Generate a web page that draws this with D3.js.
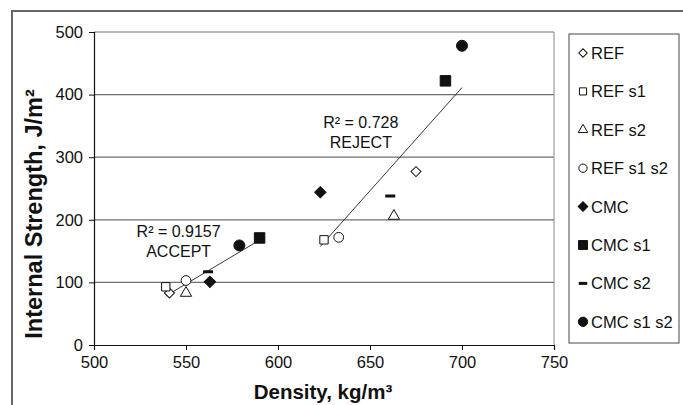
<!DOCTYPE html>
<html>
<head>
<meta charset="utf-8">
<script src="https://cdn.jsdelivr.net/npm/d3@7"></script>
<style>
  body { margin: 0; background: #fff; }
  svg text { font-family: "Liberation Sans", Arial, sans-serif; fill: #111; }
</style>
</head>
<body>
<div id="chart"></div>
<script>
const seriesNames = ['REF', 'REF s1', 'REF s2', 'REF s1 s2', 'CMC', 'CMC s1', 'CMC s2', 'CMC s1 s2'];
// low density group (ACCEPT) and high density group (REJECT), one point per series
const densityLow = [541, 539, 550, 550, 563, 590, 562, 579];
const strengthLow = [83, 93, 83, 103, 101, 171, 117, 159];
const densityHigh = [675, 625, 663, 633, 623, 691, 661, 700];
const strengthHigh = [277, 168, 206, 172, 244, 422, 238, 478];
const xTicks = [500, 550, 600, 650, 700, 750];
const yTicks = [0, 100, 200, 300, 400, 500];
const fitLabels = [
  {r2: '0.9157', verdict: 'ACCEPT', x: 546, y: 173},
  {r2: '0.728', verdict: 'REJECT', x: 645, y: 347}
];

const width = 683;
const height = 405;
const plotLeft = 94, plotRight = 554, plotTop = 32, plotBottom = 345;

let svg = d3.select('#chart')
  .append('svg')
  .attr('width', width)
  .attr('height', height);

// Outer chart border.
svg.append('rect')
  .attr('x', 12).attr('y', 11)
  .attr('width', 700).attr('height', 420)
  .attr('fill', 'none')
  .attr('stroke', '#666')
  .attr('stroke-width', 2);

let x = d3.scaleLinear().domain([500, 750]).range([plotLeft, plotRight]);
let y = d3.scaleLinear().domain([0, 500]).range([plotBottom, plotTop]);

// Gridlines.
svg.append('g')
  .selectAll('line')
  .data(yTicks.slice(1))
  .enter()
  .append('line')
    .attr('x1', plotLeft).attr('x2', plotRight)
    .attr('y1', d => y(d)).attr('y2', d => y(d))
    .attr('stroke', '#6e6e6e')
    .attr('stroke-width', 1.2);

// Right frame.
svg.append('line')
  .attr('x1', plotRight).attr('x2', plotRight)
  .attr('y1', plotTop).attr('y2', plotBottom)
  .attr('stroke', '#888');

let xAxis = d3.axisBottom(x).tickValues(xTicks).tickSize(5).tickPadding(6);
let yAxis = d3.axisLeft(y).tickValues(yTicks).tickSize(5).tickPadding(6);

let gx = svg.append('g')
  .attr('transform', `translate(0,${plotBottom})`)
  .call(xAxis);
let gy = svg.append('g')
  .attr('transform', `translate(${plotLeft},0)`)
  .call(yAxis);

[gx, gy].forEach(g => {
  g.select('.domain').attr('stroke', '#111').attr('stroke-width', 1.2);
  g.selectAll('.tick line').attr('stroke', '#111');
  g.selectAll('.tick text')
    .style('font-family', '"Liberation Sans", Arial, sans-serif')
    .style('font-size', '16.5px')
    .attr('fill', '#111');
});

// Axis titles.
svg.append('text')
  .attr('x', 323).attr('y', 399)
  .attr('text-anchor', 'middle')
  .style('font-size', '20.5px')
  .style('font-weight', 'bold')
  .text('Density, kg/m³');

svg.append('text')
  .attr('transform', 'translate(42,214) rotate(-90)')
  .attr('text-anchor', 'middle')
  .style('font-size', '23.5px')
  .style('font-weight', 'bold')
  .text('Internal Strength, J/m²');

// Marker styles, one per series.
const markers = [
  {type: d3.symbolSquare, size: 50, rotate: 45, fill: '#fff'},
  {type: d3.symbolSquare, size: 70, rotate: 0, fill: '#fff'},
  {type: d3.symbolTriangle, size: 55, rotate: 0, fill: '#fff'},
  {type: d3.symbolCircle, size: 75, rotate: 0, fill: '#fff'},
  {type: d3.symbolSquare, size: 64, rotate: 45, fill: '#111'},
  {type: d3.symbolSquare, size: 110, rotate: 0, fill: '#111'},
  {type: 'dash'},
  {type: d3.symbolCircle, size: 95, rotate: 0, fill: '#111'}
];

function drawMarker(g, i, cx, cy, scale) {
  let m = markers[i];
  if (m.type === 'dash') {
    g.append('rect')
      .attr('x', cx - 5 * scale).attr('y', cy - 1.5)
      .attr('width', 10 * scale).attr('height', 3)
      .attr('fill', '#111');
    return;
  }
  g.append('path')
    .attr('d', d3.symbol().type(m.type).size(m.size * scale * scale)())
    .attr('transform', `translate(${cx},${cy}) rotate(${m.rotate})`)
    .attr('fill', m.fill)
    .attr('stroke', '#111')
    .attr('stroke-width', 1);
}

// Trend lines (least squares on each group).
function fit(xs, ys) {
  let mx = d3.mean(xs), my = d3.mean(ys);
  let sxy = d3.sum(xs, (v, i) => (v - mx) * (ys[i] - my));
  let sxx = d3.sum(xs, v => (v - mx) * (v - mx));
  let slope = sxy / sxx;
  let x0 = d3.min(xs), x1 = d3.max(xs);
  return [[x0, my + slope * (x0 - mx)], [x1, my + slope * (x1 - mx)]];
}

[[densityLow, strengthLow], [densityHigh, strengthHigh]].forEach(([xs, ys]) => {
  let seg = fit(xs, ys);
  svg.append('line')
    .attr('x1', x(seg[0][0])).attr('y1', y(seg[0][1]))
    .attr('x2', x(seg[1][0])).attr('y2', y(seg[1][1]))
    .attr('stroke', '#222')
    .attr('stroke-width', 0.9);
});

// Points.
let points = svg.append('g');
seriesNames.forEach((name, i) => {
  drawMarker(points, i, x(densityLow[i]), y(strengthLow[i]), 1);
  drawMarker(points, i, x(densityHigh[i]), y(strengthHigh[i]), 1);
});

// R² labels.
fitLabels.forEach(d => {
  svg.append('text')
    .attr('x', x(d.x)).attr('y', y(d.y))
    .attr('text-anchor', 'middle')
    .style('font-size', '16px')
    .text(`R² = ${d.r2}`);
  svg.append('text')
    .attr('x', x(d.x)).attr('y', y(d.y) + 20)
    .attr('text-anchor', 'middle')
    .style('font-size', '16px')
    .text(d.verdict);
});

// Legend.
let legend = svg.append('g');
legend.append('rect')
  .attr('x', 569).attr('y', 34)
  .attr('width', 110).attr('height', 309)
  .attr('fill', '#fff')
  .attr('stroke', '#666')
  .attr('stroke-width', 1.2);

seriesNames.forEach((name, i) => {
  let cy = 53 + i * 38.4;
  drawMarker(legend, i, 583, cy, 0.85);
  legend.append('text')
    .attr('x', 591).attr('y', cy + 6)
    .style('font-size', '16.5px')
    .text(name);
});
</script>
</body>
</html>
